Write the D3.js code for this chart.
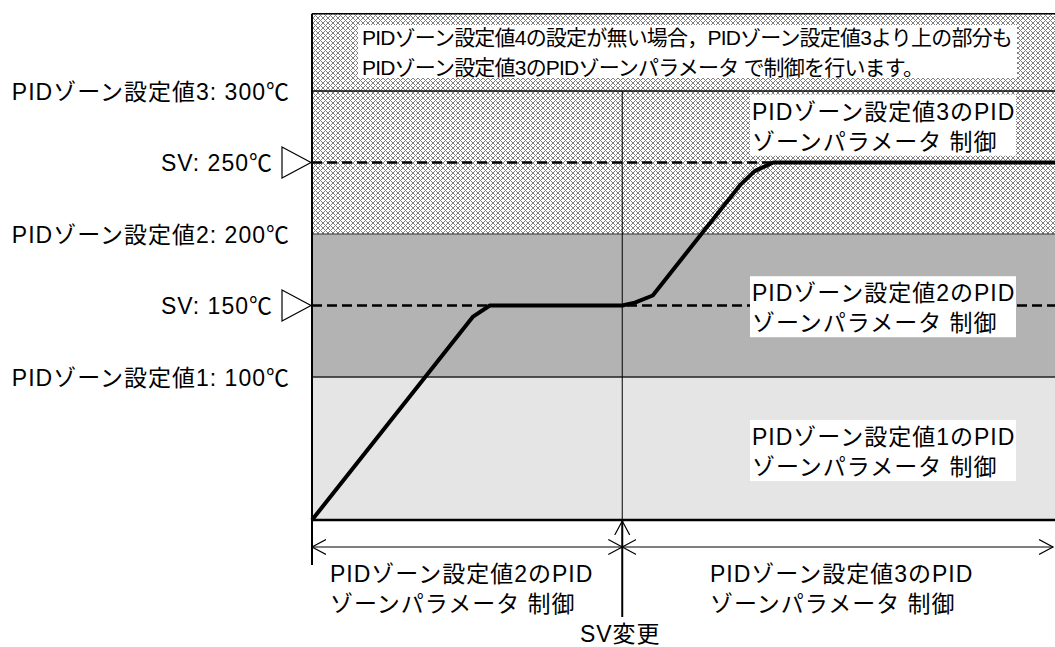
<!DOCTYPE html>
<html>
<head>
<meta charset="utf-8">
<script src="https://cdn.jsdelivr.net/npm/d3@7"></script>
<style>
  html, body { margin: 0; padding: 0; background: #fff; }
  svg { display: block; }
  text { font-family: "Liberation Sans", Arial, "Noto Sans CJK JP", sans-serif; fill: #000; }
</style>
</head>
<body>
<svg id="chart" width="1055" height="647"></svg>
<script>
// ---------------- data ----------------
const timeDomain = [0, 100];
const tempDomain = [0, 354];
const zoneLower = [0, 100, 200];
const zoneUpper = [100, 200, 354];
const zoneBounds = [100, 200, 300];
const zoneTickLabels = ["PIDゾーン設定値1: 100℃", "PIDゾーン設定値2: 200℃", "PIDゾーン設定値3: 300℃"];
const zoneLabelLine1 = ["PIDゾーン設定値1のPID", "PIDゾーン設定値2のPID", "PIDゾーン設定値3のPID"];
const zoneLabelLine2 = ["ゾーンパラメータ 制御", "ゾーンパラメータ 制御", "ゾーンパラメータ 制御"];
const svValues = [150, 250];
const svLabels = ["SV: 150℃", "SV: 250℃"];
const svChangeTime = 41.7;
const pvTime = [0, 21.6, 23.9, 41.7, 43.4, 45.8, 57.5, 59.5, 62.0, 100];
const pvTemp = [0, 142, 150, 150, 152, 157, 234, 244, 250, 250];
const noteLines = ["PIDゾーン設定値4の設定が無い場合，PIDゾーン設定値3より上の部分も",
                   "PIDゾーン設定値3のPIDゾーンパラメータ で制御を行います。"];
const bottomLine1 = ["PIDゾーン設定値2のPID", "PIDゾーン設定値3のPID"];
const bottomLine2 = ["ゾーンパラメータ 制御", "ゾーンパラメータ 制御"];
const svChangeLabel = "SV変更";

// ---------------- layout ----------------
const svg = d3.select("#chart");
const x = d3.scaleLinear().domain(timeDomain).range([312, 1056]);
const y = d3.scaleLinear().domain(tempDomain).range([520, 13.8]);
const zoneFills = ["#e5e5e5", "#b3b3b3", "url(#hatch)"];

const defs = svg.append("defs");
const P = 5;
const pat = defs.append("pattern").attr("id", "hatch")
  .attr("patternUnits", "userSpaceOnUse").attr("width", P).attr("height", P);
pat.append("rect").attr("width", P).attr("height", P).attr("fill", "#ffffff");
for (let i = 0; i < P; i++) {
  for (let j = 0; j < P; j++) {
    if ((i - j + P) % P === 0 || (i + j) % P === 0) {
      pat.append("rect").attr("x", i).attr("y", j).attr("width", 1).attr("height", 1).attr("fill", "#808080");
    }
  }
}
defs.append("marker").attr("id", "arr")
  .attr("markerUnits", "userSpaceOnUse").attr("markerWidth", 16).attr("markerHeight", 18)
  .attr("refX", 14).attr("refY", 8).attr("orient", "auto-start-reverse")
  .append("path").attr("d", "M0,0.5 L14,8 L0,15.5").attr("fill", "none").attr("stroke", "#000").attr("stroke-width", 1.2);

// zones
svg.append("g").selectAll("rect").data(zoneLower).join("rect")
  .attr("x", x(timeDomain[0]))
  .attr("y", (d, i) => y(zoneUpper[i]))
  .attr("width", x(timeDomain[1]) - x(timeDomain[0]))
  .attr("height", (d, i) => y(zoneLower[i]) - y(zoneUpper[i]))
  .attr("fill", (d, i) => zoneFills[i]);

// zone boundary lines
const boundStroke = ["#222", "#333", "#000"];
const boundWidth = [1.3, 1, 1.5];
svg.append("g").selectAll("line").data(zoneBounds).join("line")
  .attr("x1", x(0)).attr("x2", x(100))
  .attr("y1", d => y(d)).attr("y2", d => y(d))
  .attr("stroke", (d, i) => boundStroke[i]).attr("stroke-width", (d, i) => boundWidth[i]);

// top border
svg.append("line").attr("x1", x(0)).attr("x2", x(100)).attr("y1", y(tempDomain[1])).attr("y2", y(tempDomain[1]))
  .attr("stroke", "#000").attr("stroke-width", 1.5);

// SV change vertical line
svg.append("line").attr("x1", x(svChangeTime)).attr("x2", x(svChangeTime))
  .attr("y1", y(300)).attr("y2", y(0)).attr("stroke", "#000").attr("stroke-width", 1);

// dashed SV lines
svg.append("g").selectAll("line").data(svValues).join("line")
  .attr("x1", x(0)).attr("x2", x(100))
  .attr("y1", d => y(d)).attr("y2", d => y(d))
  .attr("stroke", "#000").attr("stroke-width", 2.4).attr("stroke-dasharray", "10,5");

// note box
svg.append("rect").attr("x", 358).attr("y", 25).attr("width", 659).attr("height", 53).attr("fill", "#fff");
svg.append("g").selectAll("text").data(noteLines).join("text")
  .attr("x", 362).attr("y", (d, i) => 45 + i * 30)
  .attr("font-size", 21).attr("letter-spacing", -0.8).text(d => d);

// zone label boxes
const zoneLabelBase = [52.4, 153, 280];
const zl = svg.append("g").selectAll("g").data(zoneLabelLine1).join("g");
zl.append("rect").attr("x", 750).attr("width", 266)
  .attr("y", (d, i) => y(zoneLabelBase[i]) - 25).attr("height", 61).attr("fill", "#fff");
zl.append("text").attr("x", 752).attr("y", (d, i) => y(zoneLabelBase[i]))
  .attr("font-size", 23).attr("letter-spacing", 1).text(d => d);
zl.append("text").attr("x", 752).attr("y", (d, i) => y(zoneLabelBase[i]) + 30)
  .attr("font-size", 23).attr("letter-spacing", 1).text((d, i) => zoneLabelLine2[i]);

// PV line
const line = d3.line().x(d => x(d[0])).y(d => y(d[1]));
svg.append("path").datum(pvTime.map((t, i) => [t, pvTemp[i]]))
  .attr("d", line).attr("fill", "none").attr("stroke", "#000").attr("stroke-width", 4)
  .attr("stroke-linejoin", "round");

// left border & baseline
svg.append("line").attr("x1", x(0)).attr("x2", x(0)).attr("y1", y(tempDomain[1])).attr("y2", y(0) + 45)
  .attr("stroke", "#000").attr("stroke-width", 2);
svg.append("line").attr("x1", x(0)).attr("x2", x(100)).attr("y1", y(0)).attr("y2", y(0))
  .attr("stroke", "#000").attr("stroke-width", 2.5);

// left labels
svg.append("g").selectAll("text").data(zoneBounds).join("text")
  .attr("x", 290).attr("y", d => y(d) + 9).attr("text-anchor", "end")
  .attr("font-size", 23).attr("letter-spacing", 1).text((d, i) => zoneTickLabels[i]);
svg.append("g").selectAll("text").data(svValues).join("text")
  .attr("x", 273).attr("y", d => y(d) + 8.5).attr("text-anchor", "end")
  .attr("font-size", 23).attr("letter-spacing", 1).text((d, i) => svLabels[i]);
svg.append("g").selectAll("path").data(svValues).join("path")
  .attr("d", d => `M282,${y(d) - 15.5} L311,${y(d)} L282,${y(d) + 15.5} Z`)
  .attr("fill", "#fff").attr("stroke", "#000").attr("stroke-width", 1.2);

// dimension arrows
const dimY = y(0) + 27;
const segs = [[x(0), x(svChangeTime)], [x(svChangeTime), x(100) - 3]];
svg.append("g").selectAll("line").data(segs).join("line")
  .attr("x1", d => d[0]).attr("x2", d => d[1]).attr("y1", dimY).attr("y2", dimY)
  .attr("stroke", "#000").attr("stroke-width", 1.2)
  .attr("marker-start", "url(#arr)").attr("marker-end", "url(#arr)");
svg.append("line").attr("x1", x(svChangeTime)).attr("x2", x(svChangeTime))
  .attr("y1", y(0) + 97).attr("y2", y(0) + 1)
  .attr("stroke", "#000").attr("stroke-width", 2).attr("marker-end", "url(#arr)");

// bottom labels
const bottomX = [330, 710];
svg.append("g").selectAll("text").data(bottomLine1).join("text")
  .attr("x", (d, i) => bottomX[i]).attr("y", 582)
  .attr("font-size", 23).attr("letter-spacing", 1).text(d => d);
svg.append("g").selectAll("text").data(bottomLine2).join("text")
  .attr("x", (d, i) => bottomX[i]).attr("y", 612)
  .attr("font-size", 23).attr("letter-spacing", 1).text(d => d);
svg.append("text").attr("x", x(svChangeTime) - 2).attr("y", 642).attr("text-anchor", "middle")
  .attr("font-size", 23).attr("letter-spacing", 1).text(svChangeLabel);
</script>
</body>
</html>
